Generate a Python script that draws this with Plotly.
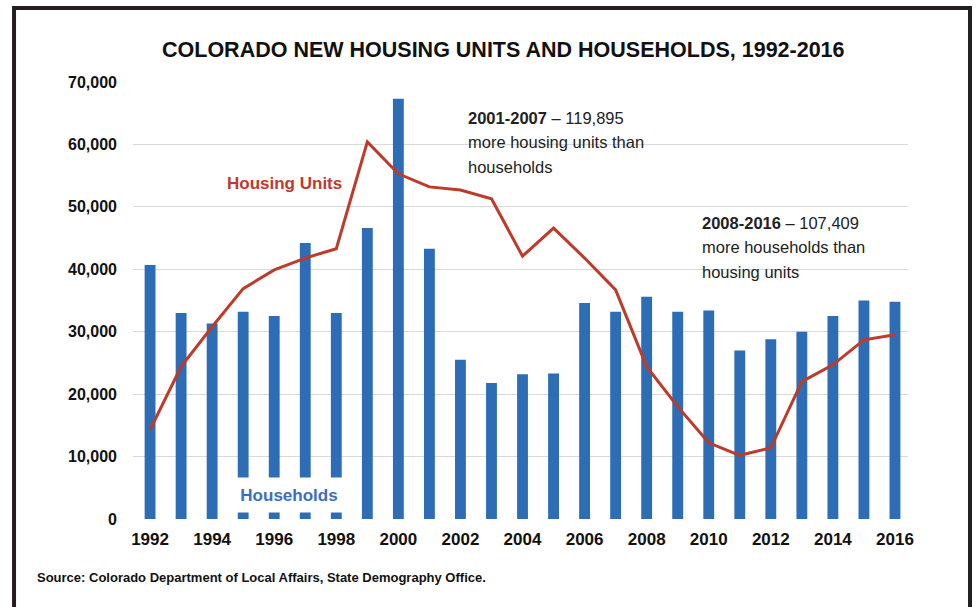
import plotly.graph_objects as go

# Colorado new households and new housing units by year
years = list(range(1992, 2017))
households = [40700, 33000, 31300, 33200, 32500, 44200, 33000, 46600, 67300, 43300,
              25500, 21800, 23200, 23300, 34600, 33200, 35600, 33200, 33400, 27000,
              28800, 30000, 32500, 35000, 34800]
housing_units = [14300, 24400, 30800, 36900, 39900, 41800, 43300, 60400, 55300, 53200,
                 52700, 51300, 42100, 46600, 41800, 36700, 24400, 18000, 12200, 10200,
                 11400, 22000, 24700, 28700, 29500]
x_ticks = list(range(1992, 2017, 2))
y_ticks = list(range(0, 70001, 10000))

BAR_BLUE = "#2D6DB5"
LINE_RED = "#BE3A2A"
SANS = "Liberation Sans, Arial, Helvetica, sans-serif"

fig = go.Figure()
fig.add_trace(go.Bar(x=years, y=households, width=0.35, marker=dict(color=BAR_BLUE, line=dict(width=0)),
                     name="Households"))
fig.add_trace(go.Scatter(x=years, y=housing_units, mode="lines", line=dict(color=LINE_RED, width=3),
                         name="Housing Units"))

annotations = [
    dict(text="<b>COLORADO NEW HOUSING UNITS AND HOUSEHOLDS, 1992-2016</b>", x=0.4787, y=1.0732,
         xanchor="center", yanchor="middle", font=dict(family=SANS, size=21.5, color="#111111")),
    dict(text="<b>Housing Units</b>", x=0.1961, y=0.7666, xanchor="center", yanchor="middle",
         font=dict(family=SANS, size=17, color="#C0392B")),
    dict(text="<b>Households</b>", x=0.2013, y=0.0549, xanchor="center", yanchor="middle",
         width=112, height=34, bgcolor="white", borderpad=0,
         font=dict(family=SANS, size=17, color="#3B6FC0")),
    dict(text="<b>2001-2007</b> – 119,895", x=0.4297, y=0.9176, xanchor="left", yanchor="middle"),
    dict(text="more housing units than", x=0.4297, y=0.8627, xanchor="left", yanchor="middle"),
    dict(text="households", x=0.4297, y=0.8055, xanchor="left", yanchor="middle"),
    dict(text="<b>2008-2016</b> – 107,409", x=0.7316, y=0.6773, xanchor="left", yanchor="middle"),
    dict(text="more households than", x=0.7316, y=0.6224, xanchor="left", yanchor="middle"),
    dict(text="housing units", x=0.7316, y=0.5652, xanchor="left", yanchor="middle"),
    dict(text="<b>Source: Colorado Department of Local Affairs, State Demography Office.</b>",
         x=-0.1265, y=-0.135, xanchor="left", yanchor="middle",
         font=dict(family=SANS, size=13, color="#111111")),
]
for a in annotations:
    a.setdefault("xref", "paper")
    a.setdefault("yref", "paper")
    a.setdefault("showarrow", False)
    a.setdefault("font", dict(family=SANS, size=16.5, color="#222222"))

# dark frame around the figure (open at the bottom)
frame = dict(color="#231F20", width=4)
shapes = [
    dict(type="line", xref="paper", yref="paper", x0=-0.1535, x1=-0.1535, y0=-0.3, y1=1.1693, line=frame),
    dict(type="line", xref="paper", yref="paper", x0=-0.1561, x1=1.0826, y0=1.1693, y1=1.1693, line=frame),
    dict(type="line", xref="paper", yref="paper", x0=1.08, x1=1.08, y0=-0.3, y1=1.1693, line=frame),
]

fig.update_layout(
    width=977, height=607,
    margin=dict(l=133, r=69, t=82, b=88),
    paper_bgcolor="white", plot_bgcolor="white",
    showlegend=False,
    annotations=annotations,
    shapes=shapes,
    xaxis=dict(range=[1991.45, 2016.42], tickvals=x_ticks, ticktext=[str(v) for v in x_ticks],
               showgrid=False, zeroline=False, showline=False, ticks="", ticklabelstandoff=8,
               tickfont=dict(family=SANS, size=17, color="#111111", weight="bold")),
    yaxis=dict(range=[0, 70000], tickvals=y_ticks, ticktext=[f"{v:,}" for v in y_ticks],
               showgrid=True, gridcolor="#D9D9D9", gridwidth=1, zeroline=False, showline=False,
               ticks="", ticklabelstandoff=15,
               tickfont=dict(family=SANS, size=16, color="#111111", weight="bold")),
)

fig.write_html("out.html")
